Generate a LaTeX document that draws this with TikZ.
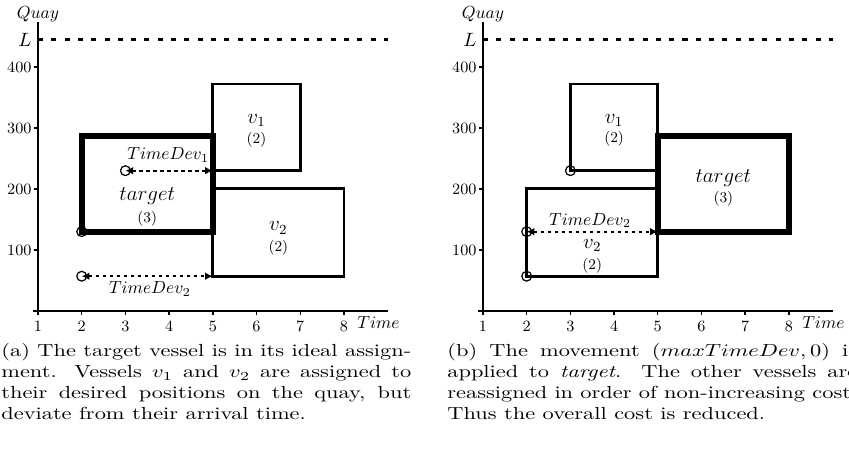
\RequirePackage{fix-cm}
\documentclass[tikz,border=0pt]{standalone}
\usepackage{graphicx}
\usetikzlibrary{arrows.meta}
\newcommand{\capstretch}[1]{\scalebox{1.28}[1]{\parbox[t]{183pt}{#1}}}
\begin{document}
\begin{tikzpicture}[x=0.5714pt,y=0.5714pt,
  box/.style={line width=1.5pt},
  tbox/.style={line width=3.3pt},
  axisline/.style={line width=1.5pt},
  tickline/.style={line width=0.8pt},
  dashedL/.style={line width=1.5pt, dash pattern=on 2.9pt off 4.7pt},
  devarrow/.style={line width=1pt, dash pattern=on 2.1pt off 1.9pt,
    {Latex[length=4.4pt,width=4.4pt]}-{Latex[length=4.4pt,width=4.4pt]}},
  pin/.style={circle, draw, line width=0.7pt, minimum size=5.6pt, inner sep=0pt},
  vlab/.style={font=\fontsize{12}{14}\selectfont, inner sep=0pt},
  clab/.style={font=\fontsize{8.5}{10}\selectfont, inner sep=0pt},
  numlab/.style={font=\fontsize{9}{10}\selectfont, inner sep=0pt},
  axlab/.style={font=\fontsize{10}{12}\selectfont, inner sep=0pt},
  devlab/.style={font=\fontsize{10}{12}\selectfont, inner sep=0pt},
  captxt/.style={font=\fontsize{10}{12}\selectfont, inner sep=0pt, anchor=north west}
]
\useasboundingbox (0,0) rectangle (849,454);

% ---------- LEFT PANEL ----------
\begin{scope}[shift={(-3.257pt,81.71pt)}, x=24.97pt, y=0.3486pt]
  \coordinate (lo) at (1,0);
  \coordinate (lxe) at (9,0);
  \coordinate (lxs) at (0.89,0);
  \coordinate (lye) at (1,474);
  \draw[axisline] (lxs) -- (lxe);
  \draw[axisline] (lo) -- (lye);
  \foreach \t in {1,...,8} {
    \draw[tickline] (\t,0) -- (\t,-6);
    \node[numlab, anchor=base] (lxt\t) at (\t,-34) {\t};
  }
  \foreach \q in {100,200,300,400} {
    \draw[tickline] (1,\q) -- (0.91,\q);
    \node[numlab, anchor=east] (lyt\q) at (0.86,\q) {\q};
  }
  \node[axlab, anchor=south] (lquay) at (lye) {$Quay$};
  \node[axlab, anchor=base west] (ltime) at (8.3,-28) {$Time$};
  \node[font=\fontsize{11}{12}\selectfont, inner sep=0pt, anchor=east] (lL) at (0.86,445) {$L$};
  \coordinate (lLs) at (1,445);
  \coordinate (lLe) at (9,445);
  \draw[dashedL] (lLs) -- (lLe);

  \draw[box] (5,230) rectangle (7,372);
  \draw[box] (5,57) rectangle (8,201);
  \draw[tbox] (2,130) rectangle (5,287);

  \node[vlab] (lv1) at (6,312) {$v_1$};
  \node[clab] (lv1c) at (6,280) {(2)};
  \node[vlab] (lv2) at (6.5,136) {$v_2$};
  \node[clab] (lv2c) at (6.5,103) {(2)};
  \node[vlab] (ltg) at (3.5,189) {$target$};
  \node[clab] (ltgc) at (3.5,151) {(3)};

  \node[pin] (lp0) at (2,130) {};
  \node[pin] (lp1) at (3,230) {};
  \node[pin] (lp2) at (2,57) {};
  \coordinate (le1) at (5,230);
  \coordinate (le2) at (5,57);
  \draw[devarrow] (lp1.center) -- (le1);
  \draw[devarrow] (lp2.center) -- (le2);
  \node[devlab] (ld1) at (3.98,256) {$TimeDev_1$};
  \node[devlab] (ld2) at (3.56,36) {$TimeDev_2$};
\end{scope}

% ---------- RIGHT PANEL ----------
\begin{scope}[shift={(251.0pt,81.71pt)}, x=24.97pt, y=0.3486pt]
  \coordinate (ro) at (1,0);
  \coordinate (rxe) at (9,0);
  \coordinate (rxs) at (0.89,0);
  \coordinate (rye) at (1,474);
  \draw[axisline] (rxs) -- (rxe);
  \draw[axisline] (ro) -- (rye);
  \foreach \t in {1,...,8} {
    \draw[tickline] (\t,0) -- (\t,-6);
    \node[numlab, anchor=base] (rxt\t) at (\t,-34) {\t};
  }
  \foreach \q in {100,200,300,400} {
    \draw[tickline] (1,\q) -- (0.91,\q);
    \node[numlab, anchor=east] (ryt\q) at (0.86,\q) {\q};
  }
  \node[axlab, anchor=south] (rquay) at (rye) {$Quay$};
  \node[axlab, anchor=base west] (rtime) at (8.3,-28) {$Time$};
  \node[font=\fontsize{11}{12}\selectfont, inner sep=0pt, anchor=east] (rL) at (0.86,445) {$L$};
  \coordinate (rLs) at (1,445);
  \coordinate (rLe) at (9,445);
  \draw[dashedL] (rLs) -- (rLe);

  \draw[box] (3,230) rectangle (5,372);
  \draw[box] (2,57) rectangle (5,201);
  \draw[tbox] (5,130) rectangle (8,287);

  \node[vlab] (rv1) at (4,312) {$v_1$};
  \node[clab] (rv1c) at (4,282) {(2)};
  \node[vlab] (rv2) at (3.5,107) {$v_2$};
  \node[clab] (rv2c) at (3.5,74) {(2)};
  \node[vlab] (rtg) at (6.5,218) {$target$};
  \node[clab] (rtgc) at (6.5,184) {(3)};

  \node[pin] (rp1) at (3,230) {};
  \node[pin] (rp0) at (2,130) {};
  \node[pin] (rp2) at (2,57) {};
  \coordinate (re0) at (5,130);
  \draw[devarrow] (rp0.center) -- (re0);
  \node[devlab] (rd2) at (3.45,148) {$TimeDev_2$};
\end{scope}

% ---------- CAPTIONS ----------
\node[captxt] (capa) at (1,111) {\capstretch{(a) The target vessel is in its ideal assign-\linebreak ment. Vessels $v_1$ and $v_2$ are assigned to\linebreak their desired positions on the quay, but\linebreak deviate from their arrival time.}};
\node[captxt] (capb) at (447,111) {\capstretch{(b) The movement $(maxTimeDev,0)$ is\linebreak applied to \textit{target}. The other vessels are\linebreak reassigned in order of non-increasing cost.\linebreak Thus the overall cost is reduced.}};
\end{tikzpicture}
\end{document}
